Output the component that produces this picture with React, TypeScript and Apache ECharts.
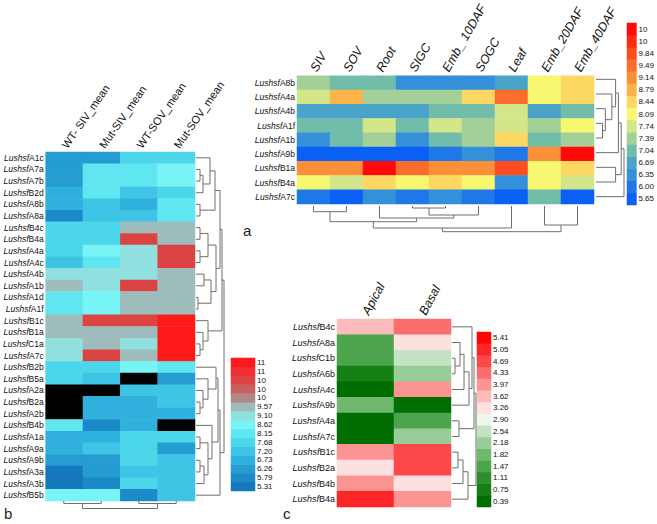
import React, { useEffect, useRef } from 'react';
import * as echarts from 'echarts';

const FONT = "'Liberation Sans', Arial, sans-serif";

// ---------- Panel a ----------
const aRows = ['A8b', 'A4a', 'A4b', 'A1f', 'A1b', 'A9b', 'B1a', 'B4a', 'A7c'];
const aCols = ['SIV', 'SOV', 'Root', 'SIGC', 'Emb_ 10DAF', 'SOGC', 'Leaf', 'Emb_20DAF', 'Emb_40DAF'];
const aLevelLabels = ['5.65', '6.00', '6.35', '6.69', '7.04', '7.39', '7.74', '8.09', '8.44', '8.79', '9.14', '9.49', '9.84', '10', '10'];
const aLevelValues = [5.65, 6.0, 6.35, 6.69, 7.04, 7.39, 7.74, 8.09, 8.44, 8.79, 9.14, 9.49, 9.84, 10.17, 10.52];
const aColors = ['#0a5ff5', '#1f78e8', '#3490d8', '#4aa3c8', '#72bcaa', '#a2d098', '#d4e68a', '#f8f870', '#fcd862', '#fcb44a', '#fc9038', '#fc6c2c', '#fc4c20', '#fc2c14', '#ff0a0a'];
const aValues = [
  [7.39, 7.04, 7.04, 6.35, 6.35, 6.35, 6.69, 8.09, 8.44],
  [7.74, 8.79, 7.39, 7.39, 7.39, 8.44, 9.49, 8.09, 8.44],
  [6.69, 6.69, 6.69, 6.69, 7.04, 7.04, 7.74, 6.69, 7.04],
  [7.04, 7.04, 7.74, 7.04, 7.74, 7.39, 7.74, 7.39, 8.09],
  [6.35, 7.04, 7.39, 6.35, 7.04, 7.39, 8.44, 7.04, 7.39],
  [5.65, 5.65, 5.65, 5.65, 6.0, 6.35, 6.0, 9.14, 10.52],
  [9.14, 9.14, 10.52, 9.49, 9.14, 9.14, 9.84, 8.09, 8.44],
  [8.09, 7.74, 8.44, 8.09, 8.44, 8.09, 6.35, 8.09, 7.74],
  [6.0, 5.65, 6.35, 6.0, 6.35, 6.0, 5.65, 7.04, 5.65],
];
const aRowLinks = [[3, 4, 7], [2, 9, 10], [1, 10, 17], [0, 11, 21], [12, 5, 24], [6, 7, 21], [13, 14, 27], [15, 8, 30]];
const aColLinks = [[0, 1, 5.7], [3, 4, 2], [10, 5, 9], [2, 11, 12], [9, 12, 15.7], [13, 6, 22], [7, 8, 19], [14, 15, 25.7]];

// ---------- Panel b ----------
const bRows = ['A1c', 'A7a', 'A7b', 'B2d', 'A8b', 'A8a', 'B4c', 'B4a', 'A4a', 'A4c', 'A4b', 'A1b', 'A1d', 'A1f', 'B1c', 'B1a', 'C1a', 'A7c', 'B2b', 'B5a', 'A2a', 'B2a', 'A2b', 'B4b', 'A1a', 'A9a', 'A9b', 'A3a', 'A3b', 'B5b'];
const bCols = ['WT- SIV_mean', 'Mut-SIV_mean', 'WT-SOV_mean', 'Mut-SOV_mean'];
const bLevelLabels = ['5.31', '5.79', '6.26', '6.73', '7.20', '7.68', '8.15', '8.62', '9.10', '9.57', '10', '10', '10', '11', '11'];
const bLevelValues = [5.31, 5.79, 6.26, 6.73, 7.2, 7.68, 8.15, 8.62, 9.1, 9.57, 10.04, 10.51, 10.98, 11.46, 11.93];
const bColors = ['#1478bc', '#1c8ac8', '#259cd2', '#30b0dc', '#3ec4e4', '#4cd6ea', '#60e6f0', '#78f4f6', '#90e0e0', '#9ebcbc', '#b08888', '#c86060', '#dc4444', '#f03030', '#ff1a1a'];
const bValues: (number | null)[][] = [
  [6.26, 6.26, 7.68, 7.68],
  [6.26, 8.15, 8.15, 8.62],
  [6.26, 8.15, 8.15, 8.62],
  [6.73, 8.15, 7.2, 7.68],
  [6.73, 7.2, 6.73, 8.15],
  [5.79, 7.2, 7.2, 8.15],
  [7.68, 7.68, 9.57, 9.57],
  [7.68, 7.68, 10.98, 9.57],
  [7.68, 8.62, 9.1, 10.98],
  [7.2, 8.15, 9.1, 10.98],
  [9.1, 9.1, 9.1, 9.57],
  [9.57, 9.1, 10.98, 9.57],
  [8.15, 8.62, 9.57, 9.57],
  [8.15, 8.62, 9.57, 9.57],
  [9.57, 10.98, 10.98, 11.93],
  [9.57, 9.57, 9.57, 11.93],
  [9.1, 9.57, 9.1, 11.93],
  [9.1, 10.98, 9.57, 11.93],
  [7.68, 7.68, 8.62, 8.15],
  [7.68, 7.2, null, 6.26],
  [null, null, 7.2, 7.2],
  [null, 6.73, 6.73, 7.2],
  [null, 6.73, 6.73, 6.73],
  [8.15, 5.79, 6.73, null],
  [6.73, 6.73, 7.68, 7.68],
  [6.73, 7.2, 7.68, 6.26],
  [6.26, 6.26, 7.68, 7.2],
  [5.31, 6.26, 7.2, 7.2],
  [5.31, 5.79, 7.68, 7.2],
  [8.62, 8.62, 5.79, 7.2],
];
const bRowLinks = [
  [1, 2, 4], [30, 3, 7], [0, 31, 14], [4, 5, 4], [32, 33, 19],
  [6, 7, 4], [8, 9, 4], [35, 36, 12], [10, 11, 8], [12, 13, 2], [38, 39, 15], [37, 40, 20], [34, 41, 24],
  [16, 17, 4], [15, 43, 7], [14, 44, 12], [42, 45, 26],
  [21, 22, 4], [20, 47, 7], [19, 48, 12], [18, 49, 20],
  [24, 25, 4], [26, 27, 4], [52, 28, 8], [51, 53, 12], [23, 54, 16], [50, 55, 22], [56, 29, 24], [46, 57, 28],
];
const bColLinks = [[0, 1, 2.5], [2, 3, 2.5], [4, 5, 7.5]];

// ---------- Panel c ----------
const cRows = ['B4c', 'A8a', 'C1b', 'A6b', 'A4c', 'A9b', 'A4a', 'A7c', 'B1c', 'B2a', 'B4b', 'B4a'];
const cCols = ['Apical', 'Basal'];
const cLevelLabels = ['0.39', '0.75', '1.11', '1.47', '1.82', '2.18', '2.54', '2.90', '3.26', '3.62', '3.97', '4.33', '4.69', '5.05', '5.41'];
const cLevelValues = [0.39, 0.75, 1.11, 1.47, 1.82, 2.18, 2.54, 2.9, 3.26, 3.62, 3.97, 4.33, 4.69, 5.05, 5.41];
const cColors = ['#006e00', '#168016', '#2e8e2e', '#4ca44c', '#70b870', '#98cc98', '#c4e2c4', '#eef6ee', '#fde0e0', '#fcbcbc', '#fc9494', '#fc6e6e', '#fc4848', '#fc2626', '#ff0505'];
const cValues = [
  [3.62, 4.33],
  [1.47, 3.26],
  [1.47, 2.54],
  [0.75, 2.18],
  [0.39, 3.97],
  [1.82, 0.39],
  [0.39, 1.47],
  [0.39, 2.18],
  [3.97, 4.69],
  [3.26, 4.69],
  [3.97, 3.26],
  [5.05, 3.97],
];
const cRowLinks = [[2, 3, 3], [1, 12, 8], [13, 4, 12], [14, 5, 17], [0, 15, 20], [6, 7, 7], [16, 17, 22], [8, 9, 6], [19, 10, 11], [20, 11, 16], [18, 21, 24]];

// ---------- helpers ----------
function makePieces(values: number[], colors: string[]) {
  const out: any[] = [{ lt: 0, color: '#000000' }];
  for (let k = 0; k < values.length; k++) {
    const lo = k === 0 ? 0 : (values[k - 1] + values[k]) / 2;
    const hi = k === values.length - 1 ? 1000 : (values[k] + values[k + 1]) / 2;
    out.push({ gte: lo, lt: hi, color: colors[k] });
  }
  return out;
}

function dendroSegments(n: number, links: number[][], columnWise: boolean) {
  const pos: number[] = [];
  const hgt: number[] = [];
  for (let i = 0; i < n; i++) { pos.push(i); hgt.push(0); }
  const segs: number[][] = [];
  links.forEach(([a, b, h]) => {
    const pa = pos[a], pb = pos[b], ha = hgt[a], hb = hgt[b];
    const pts = [[ha, pa], [h, pa], [h, pb], [hb, pb]];
    const flat: number[] = [];
    pts.forEach(([hh, pp]) => { if (columnWise) flat.push(pp, hh); else flat.push(hh, pp); });
    segs.push(flat);
    pos.push((pa + pb) / 2);
    hgt.push(h);
  });
  return segs;
}

const App: React.FC = () => {
  const ref = useRef<HTMLDivElement>(null);
  useEffect(() => {
    if (!ref.current) return;
    const chart = echarts.init(ref.current, undefined, { renderer: 'svg' });

    const grid: any[] = [];
    const xAxis: any[] = [];
    const yAxis: any[] = [];
    const series: any[] = [];

    const hidden = { show: false };

    const rowLabel = (size: number) => ({
      interval: 0,
      margin: 2,
      color: '#111',
      fontFamily: FONT,
      formatter: (v: string) => `{i|Lushsf}{n|${v}}`,
      rich: {
        i: { fontStyle: 'italic', fontSize: size, fontFamily: FONT, color: '#111' },
        n: { fontSize: size, fontFamily: FONT, color: '#111' },
      },
    });

    function heatmap(rect: any, rows: string[], cols: string[], values: (number | null)[][], rowSize: number, colLabel: any) {
      grid.push(rect);
      const gi = grid.length - 1;
      xAxis.push({
        gridIndex: gi, type: 'category', data: cols, position: 'top',
        axisLine: hidden, axisTick: hidden, splitLine: hidden,
        axisLabel: { interval: 0, fontFamily: FONT, color: '#111', ...colLabel },
      });
      yAxis.push({
        gridIndex: gi, type: 'category', data: rows, inverse: true,
        axisLine: hidden, axisTick: hidden, splitLine: hidden,
        axisLabel: rowLabel(rowSize),
      });
      const data: number[][] = [];
      values.forEach((row, r) => row.forEach((v, c) => data.push([c, r, v === null ? -1 : v])));
      series.push({
        type: 'heatmap', xAxisIndex: xAxis.length - 1, yAxisIndex: yAxis.length - 1,
        data, emphasis: { disabled: true }, itemStyle: { borderWidth: 0 },
      });
      return series.length - 1;
    }

    function colorbar(rect: any, labels: string[], values: number[]) {
      grid.push(rect);
      const gi = grid.length - 1;
      xAxis.push({ gridIndex: gi, type: 'category', data: ['0'], show: false });
      yAxis.push({
        gridIndex: gi, type: 'category', data: labels.map((_, k) => String(k)), position: 'right',
        axisLine: hidden, axisTick: hidden, splitLine: hidden,
        axisLabel: {
          interval: 0, margin: 2, fontSize: 8, color: '#111', fontFamily: FONT,
          formatter: (v: string) => labels[+v], padding: [4, 0, 0, 0],
        },
      });
      series.push({
        type: 'heatmap', xAxisIndex: xAxis.length - 1, yAxisIndex: yAxis.length - 1,
        data: values.map((v, k) => [0, k, v]), emphasis: { disabled: true },
      });
      return series.length - 1;
    }

    function dendro(rect: any, n: number, links: number[][], columnWise: boolean, maxH: number) {
      grid.push(rect);
      const gi = grid.length - 1;
      const posAxis = { type: 'value', min: -0.5, max: n - 0.5, show: false };
      const hAxis = { type: 'value', min: 0, max: maxH, show: false };
      if (columnWise) {
        xAxis.push({ gridIndex: gi, ...posAxis });
        yAxis.push({ gridIndex: gi, ...hAxis, inverse: true });
      } else {
        xAxis.push({ gridIndex: gi, ...hAxis });
        yAxis.push({ gridIndex: gi, ...posAxis, inverse: true });
      }
      series.push({
        type: 'custom', xAxisIndex: xAxis.length - 1, yAxisIndex: yAxis.length - 1,
        encode: { x: [0, 2, 4, 6], y: [1, 3, 5, 7] },
        data: dendroSegments(n, links, columnWise),
        silent: true,
        renderItem: (_p: any, api: any) => {
          const pts: number[][] = [];
          for (let j = 0; j < 4; j++) pts.push(api.coord([api.value(2 * j), api.value(2 * j + 1)]));
          return { type: 'polyline', shape: { points: pts }, style: { stroke: '#6e6e6e', lineWidth: 1, fill: null } };
        },
      });
    }

    // Panel a
    const aHeat = heatmap({ left: 297, top: 72, width: 297, height: 132 }, aRows, aCols, aValues, 8.5,
      { rotate: -60, margin: 5, fontSize: 12.5, fontStyle: 'italic' });
    const aBar = colorbar({ left: 627, top: 23, width: 14, height: 182 }, aLevelLabels, aLevelValues);
    dendro({ left: 596, top: 72, width: 28, height: 132 }, aRows.length, aRowLinks, false, 30);
    dendro({ left: 297, top: 206, width: 297, height: 26 }, aCols.length, aColLinks, true, 26);

    // Panel b
    const bHeat = heatmap({ left: 45, top: 152, width: 150, height: 349 }, bRows, bCols, bValues, 8.5,
      { rotate: -55, margin: 5, fontSize: 11 });
    const bBar = colorbar({ left: 231, top: 358, width: 24, height: 133 }, bLevelLabels, bLevelValues);
    dendro({ left: 196, top: 152, width: 28, height: 349 }, bRows.length, bRowLinks, false, 28);
    dendro({ left: 45, top: 501, width: 150, height: 8 }, bCols.length, bColLinks, true, 8);

    // Panel c
    const cHeat = heatmap({ left: 337, top: 319, width: 114, height: 188 }, cRows, cCols, cValues, 9,
      { rotate: -62, margin: 5, fontSize: 12.5, fontStyle: 'italic' });
    const cBar = colorbar({ left: 477, top: 332, width: 14, height: 175 }, cLevelLabels, cLevelValues);
    dendro({ left: 452, top: 319, width: 24, height: 188 }, cRows.length, cRowLinks, false, 24);

    chart.setOption({
      animation: false,
      backgroundColor: '#ffffff',
      textStyle: { fontFamily: FONT },
      grid,
      xAxis,
      yAxis,
      visualMap: [
        { type: 'piecewise', show: false, seriesIndex: [aHeat, aBar], pieces: makePieces(aLevelValues, aColors) },
        { type: 'piecewise', show: false, seriesIndex: [bHeat, bBar], pieces: makePieces(bLevelValues, bColors) },
        { type: 'piecewise', show: false, seriesIndex: [cHeat, cBar], pieces: makePieces(cLevelValues, cColors) },
      ],
      graphic: [
        { type: 'text', left: 243, top: 223, style: { text: 'a', fontSize: 15, fontFamily: FONT, fill: '#222' } },
        { type: 'text', left: 4, top: 506, style: { text: 'b', fontSize: 15, fontFamily: FONT, fill: '#222' } },
        { type: 'text', left: 283, top: 506, style: { text: 'c', fontSize: 15, fontFamily: FONT, fill: '#222' } },
      ],
      series,
    });
    return () => chart.dispose();
  }, []);
  return <div ref={ref} style={{ position: 'fixed', left: 0, top: 0, width: 657, height: 524, background: '#fff' }} />;
};

export default App;
